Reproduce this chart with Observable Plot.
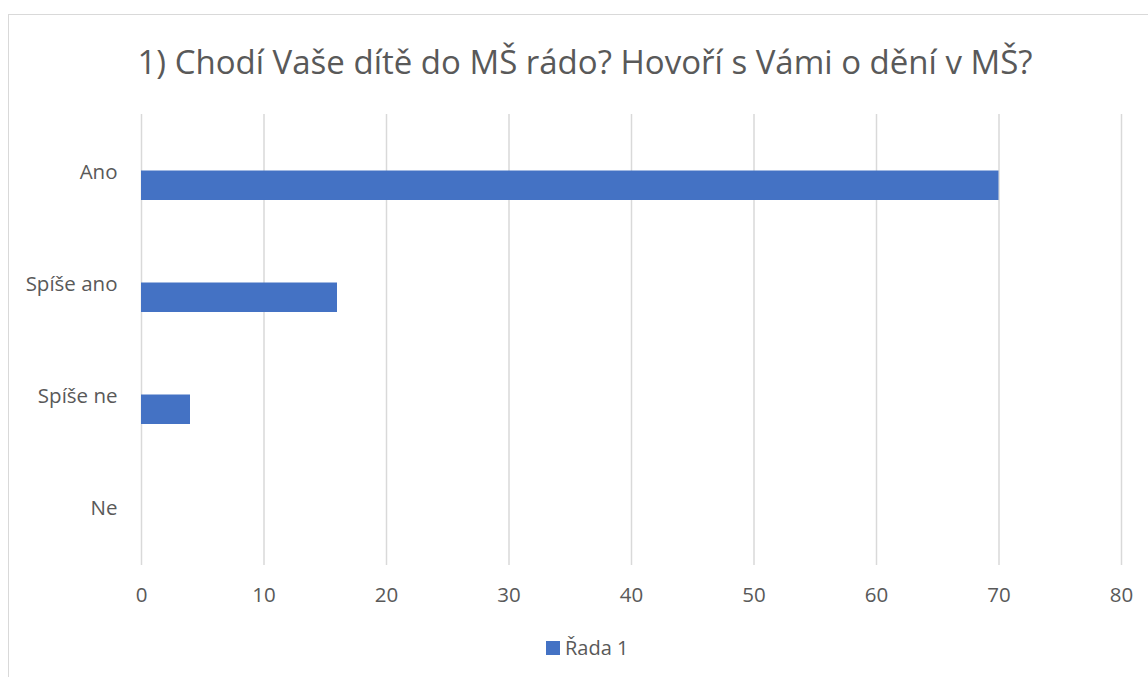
<!DOCTYPE html>
<html>
<head>
<meta charset="utf-8">
<script src="https://cdn.jsdelivr.net/npm/d3@7"></script>
<script src="https://cdn.jsdelivr.net/npm/@observablehq/plot@0.6"></script>
<style>
  html, body { margin: 0; padding: 0; background: #fff; width: 1148px; height: 677px; overflow: hidden; }
  body { font-family: "Open Sans", sans-serif; color: #595959; position: relative; }
  #frame { position: absolute; left: 8px; top: 14px; width: 1200px; height: 700px; border: 1px solid #d9d9d9; box-sizing: border-box; }
  #title { position: absolute; left: 0; width: 1170px; top: 38px; text-align: center; font-size: 33px; line-height: 48px; color: #595959; white-space: nowrap; }
  #chart { position: absolute; left: 0; top: 100px; }
  #legend { position: absolute; top: 635px; left: 546px; font-size: 20px; line-height: 26px; display: flex; align-items: center; color: #595959; }
  #legend .sw { width: 14px; height: 14px; background: #4472C4; margin-right: 5px; }
</style>
</head>
<body>
<div id="frame"></div>
<div id="title">1) Chodí Vaše dítě do MŠ rádo? Hovoří s Vámi o dění v MŠ?</div>
<div id="chart"></div>
<div id="legend"><span class="sw"></span><span id="legendText"></span></div>
<script>
const categories = ["Ano", "Spíše ano", "Spíše ne", "Ne"];
const values = [70, 16, 4, 0];
const seriesName = "Řada 1";
const xTicks = [0, 10, 20, 30, 40, 50, 60, 70, 80];

const data = categories.map((c, i) => ({category: c, value: values[i]}));
document.getElementById("legendText").textContent = seriesName;

const chart = Plot.plot({
  width: 1148,
  height: 520,
  marginTop: 14,
  marginBottom: 55,
  marginLeft: 141,
  marginRight: 27,
  style: {fontFamily: "'Open Sans', sans-serif", fontSize: "20.5px", color: "#595959", background: "transparent"},
  x: {domain: [0, 80], ticks: xTicks, grid: false, label: null},
  y: {domain: categories, padding: 0, label: null},
  marks: [
    Plot.ruleX(xTicks, {stroke: "#d9d9d9", strokeWidth: 1.5, strokeOpacity: 1}),
    Plot.barX(data, {x: "value", y: "category", fill: "#4472C4", insetTop: 54.5, insetBottom: 28}),
    Plot.axisX({ticks: xTicks, tickSize: 0, tickPadding: 22, fill: "#595959", label: null}),
    Plot.axisY({tickSize: 0, tickPadding: 24, fill: "#595959", label: null})
  ]
});
document.getElementById("chart").appendChild(chart);
</script>
</body>
</html>
